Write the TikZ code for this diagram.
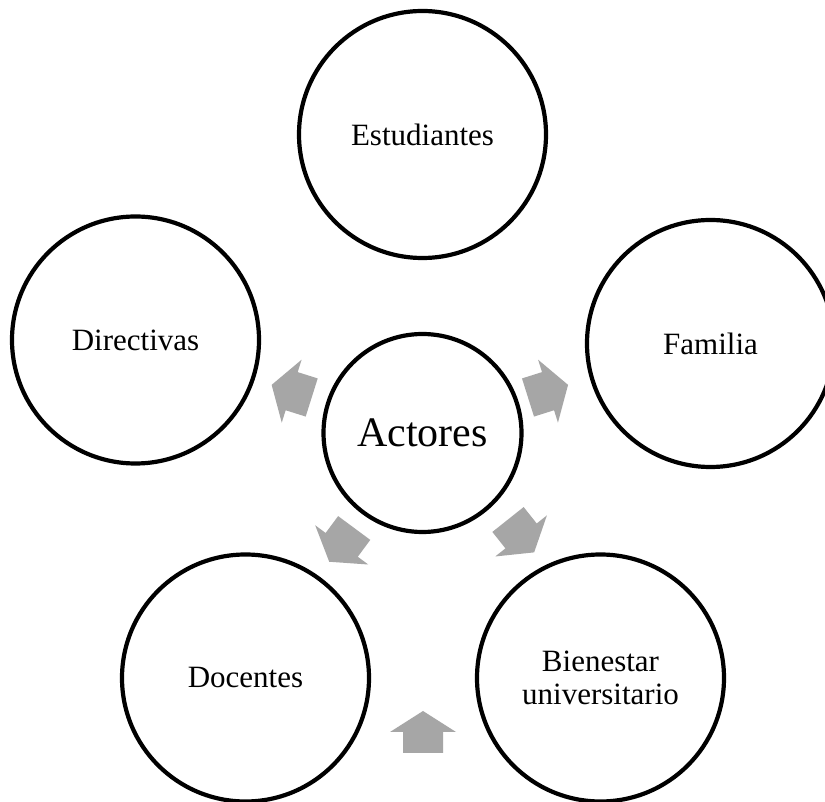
\documentclass[tikz,border=0pt]{standalone}
\usepackage{fontspec}
\setmainfont{Liberation Serif}
\definecolor{arrowgray}{HTML}{A6A6A6}
\begin{document}
\begin{tikzpicture}[x=1pt,y=1pt,
  outer/.style={circle, draw=black, line width=4.2pt, minimum size=247pt, inner sep=0pt,
    font=\fontsize{31}{33}\selectfont, align=center, text=black},
  hub/.style={circle, draw=black, line width=4.2pt, minimum size=198pt, inner sep=0pt,
    font=\fontsize{42}{46}\selectfont, text=black},
  blockarrow/.pic={\fill[arrowgray] (0,-20) -- (21,-20) -- (21,-33) -- (42,0) -- (21,33) -- (21,20) -- (0,20) -- cycle;}
]
\useasboundingbox (0,0) rectangle (825,801);
\fill[white] (0,0) rectangle (825,801);

% arrows
\pic[rotate=162.5] at (311.7,403.5) {blockarrow};
\pic[rotate=17.5] at (528,403.5) {blockarrow};
\pic[rotate=233.5] at (354.2,273) {blockarrow};
\pic[rotate=-51.5] at (508,281.5) {blockarrow};
\pic[rotate=90] at (423,48) {blockarrow};

% circles
\node[hub] (act) at (422.5,368) {Actores};
\node[outer] (est) at (422.5,666.5) {Estudiantes};
\node[outer] (dir) at (135.5,461) {Directivas};
\node[outer] (fam) at (710.5,457.5) {Familia};
\node[outer] (doc) at (245.5,123) {Docentes};
\node[outer] (bien) at (600.5,123) {Bienestar\\universitario};
\end{tikzpicture}
\end{document}
